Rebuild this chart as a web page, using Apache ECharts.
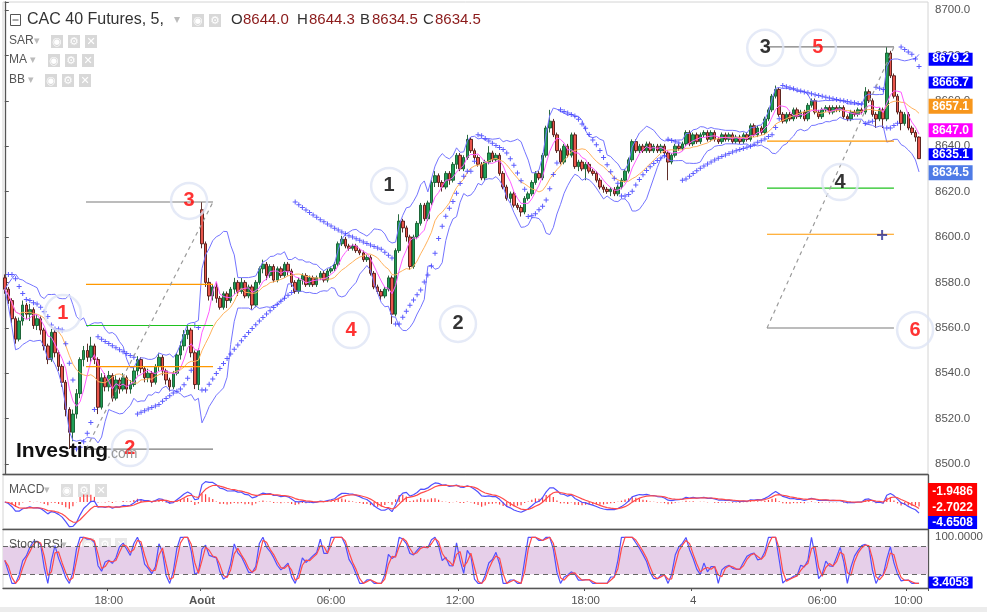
<!DOCTYPE html>
<html><head><meta charset="utf-8">
<script src="https://cdn.jsdelivr.net/npm/echarts@6/dist/echarts.min.js"></script>
<style>html,body{margin:0;padding:0;background:#fff}#c{width:987px;height:612px}</style>
</head><body><div id="c"></div>
<script>
// ---- candle data: [open, close, low, high] (10-minute steps) ----
const ohlc = [
[8582,8577,8575,8583.5],[8577,8572,8570.5,8578],[8572,8564,8562,8573],[8564,8555,8553,8565],[8555,8563,8554,8564.5],
[8563,8570,8561,8572],[8570,8566,8564,8571],[8566,8568,8563,8570.5],[8568,8561,8559.5,8569],[8561,8564,8559,8566],
[8564,8559,8557,8565],[8559,8552,8550,8560],[8552,8546,8544,8553],[8546,8558,8545,8559.5],[8558,8549,8547,8559],
[8549,8543,8541,8550],[8543,8536,8534,8544],[8536,8524,8521,8537],[8524,8514,8506.6,8525],[8514,8522,8510,8524],
[8522,8531,8520,8533],[8531,8546,8529,8547],[8546,8550,8543,8552],[8550,8547,8545,8553],[8547,8552,8545,8556],
[8552,8546,8544,8553],[8546,8525,8522,8547],[8525,8538,8524,8540],[8538,8534,8532,8540],[8534,8539,8532,8541],
[8539,8529,8527.5,8540],[8529,8537,8528,8539],[8537,8533,8531,8538],[8533,8538,8532,8540],[8538,8533,8531,8539],
[8533,8535,8531,8537],[8535,8541,8534,8543],[8541,8546,8539,8547.5],[8546,8542,8540,8547],[8542,8538,8536,8543],
[8538,8540,8536,8542],[8540,8536,8534,8541],[8536,8543,8535,8544],[8543,8547,8541,8549],[8547,8541,8539,8548],
[8541,8537,8535,8542],[8537,8534,8532,8538],[8534,8540,8533,8541],[8540,8548,8539,8549],[8548,8552,8546,8554],
[8552,8557,8550,8559],[8557,8559,8555,8561],[8559,8549,8547,8560],[8549,8535,8533,8550],[8535,8550,8532.6,8551],
[8612,8597,8595,8615.4],[8597,8580,8578,8598],[8580,8574,8572,8582],[8574,8578,8572,8579],[8578,8573,8571,8580],
[8573,8569,8568,8574],[8569,8575,8568,8576],[8575,8572,8568.7,8576],[8572,8577,8571,8578],[8577,8580,8575,8582],
[8580,8576,8574,8581],[8576,8580,8575,8582],[8580,8574,8573,8581],[8574,8578,8573,8579],[8578,8570,8568,8579],
[8570,8580,8569,8581],[8580,8586,8579,8587],[8586,8588,8584,8590],[8588,8583,8581,8589],[8583,8587,8582,8588],
[8587,8581,8580,8588],[8581,8586,8580,8587],[8586,8583,8582,8587],[8583,8588,8582,8589],[8588,8585,8583,8589],
[8585,8580,8578,8586],[8580,8576,8575,8581],[8576,8581,8575,8582],[8581,8583,8579,8584],[8583,8579,8578,8584],
[8579,8582,8578,8583],[8582,8579,8578,8583],[8579,8582,8578,8583],[8582,8584,8581,8585],[8584,8581,8580,8585],
[8581,8585,8580,8586],[8585,8586,8584,8587],[8586,8588,8585,8589],[8588,8597,8587,8598],[8597,8599,8596,8600.5],
[8599,8596,8595,8600],[8596,8595,8594,8597],[8595,8596,8594,8597],[8596,8594,8593,8597],[8594,8593,8592,8595],
[8593,8590,8589,8594],[8590,8591,8589,8592],[8591,8584,8583,8592],[8584,8578,8577,8585],[8578,8576,8575,8579],
[8576,8574,8572,8577],[8574,8577,8573,8578],[8577,8582,8576,8583],[8582,8566,8561.7,8583],[8566,8594,8565,8595],
[8594,8607,8593,8610],[8607,8604,8602,8608],[8604,8600,8598,8605],[8600,8587,8585.5,8601],[8587,8600,8586,8601],
[8600,8606,8599,8607],[8606,8614,8605,8615],[8614,8608,8607,8615],[8608,8615,8607,8616],[8615,8624,8614,8625],
[8624,8627,8622,8629],[8627,8624,8622,8628],[8624,8622,8620,8625],[8622,8628,8621,8629],[8628,8625,8623,8629],
[8625,8632,8624,8633],[8632,8636,8630,8637],[8636,8630,8629,8637],[8630,8635,8629,8636],[8635,8643,8634,8645],
[8643,8638,8637,8644],[8638,8635,8634,8639],[8635,8632,8631,8636],[8632,8626,8625,8633],[8626,8633,8625,8634],
[8633,8637,8632,8640],[8637,8634,8633,8638],[8634,8636,8633,8637],[8636,8628,8627,8637],[8628,8622,8621,8629],
[8622,8617,8616,8623],[8617,8619,8615,8620],[8619,8614,8613,8620],[8614,8613,8612,8615],[8613,8611,8609,8614],
[8611,8617,8610,8618],[8617,8619,8616,8620],[8619,8624,8618,8625],[8624,8628,8623,8629],[8628,8626,8625,8629],
[8626,8636,8625,8637],[8636,8648,8635,8649],[8648,8651,8646,8656],[8651,8645,8644,8652],[8645,8638,8637,8646],
[8638,8633,8632,8639],[8633,8640,8632,8641],[8640,8636,8635,8641],[8636,8645,8635,8646],[8645,8631,8630,8646],
[8631,8633,8629,8634],[8633,8630,8629,8634],[8630,8632,8625,8633],[8632,8629,8628,8633],[8629,8628,8627,8630],
[8628,8625,8624,8629],[8625,8622,8621,8626],[8622,8621,8619.5,8623],[8621,8620,8619,8622],[8620,8621,8618,8622],
[8621,8619,8618,8622],[8619,8622,8618,8623],[8622,8625,8621,8626],[8625,8629,8624,8630],[8629,8634,8628,8635],
[8634,8642,8633,8643],[8642,8638,8637,8643],[8638,8640,8637,8641],[8640,8638,8637,8641],[8638,8641,8637,8642],
[8641,8638,8637,8642],[8638,8640,8637,8641],[8640,8638,8637,8641],[8638,8640,8637,8641],[8640,8637,8636,8641],
[8637,8633,8625,8638],[8633,8636,8632,8637],[8636,8640,8635,8641],[8640,8639,8638,8641],[8639,8641,8638,8642],
[8641,8646,8640,8647],[8646,8641,8640,8647],[8641,8645,8640,8646],[8645,8642,8641,8646],[8642,8645,8641,8646],
[8645,8646,8644,8647],[8646,8643,8642,8647],[8643,8646,8642,8647],[8646,8643,8642,8647],[8643,8642,8641,8644],
[8642,8645,8641,8646],[8645,8643,8642,8646],[8643,8645,8642,8646],[8645,8642,8641,8646],[8642,8644,8641,8645],
[8644,8642,8641,8645],[8642,8645,8641,8646],[8645,8643,8642,8646],[8643,8649,8642,8650],[8649,8645,8644,8650],
[8645,8648,8644,8649],[8648,8646,8645,8649],[8646,8652,8645,8653],[8652,8656,8651,8657],[8656,8662,8655,8663],
[8662,8665,8661,8666.7],[8665,8654,8653,8666],[8654,8651,8650,8655],[8651,8654,8650,8655],[8654,8652,8651,8655],
[8652,8656,8651,8657],[8656,8653,8652,8657],[8653,8655,8652,8656],[8655,8652,8651,8656],[8652,8658,8651,8659],
[8658,8660,8657,8661],[8660,8655,8654,8661],[8655,8653,8652,8656],[8653,8656,8652,8657],[8656,8657,8655,8658],
[8657,8655,8654,8658],[8655,8657,8654,8658],[8657,8656,8655,8658],[8656,8657,8655,8658],[8657,8653,8652,8658],
[8653,8652,8651,8654],[8652,8655,8651,8656],[8655,8654,8653,8656],[8654,8656,8653,8657],[8656,8655,8654,8657],
[8655,8664,8654,8666],[8664,8660,8659,8665],[8660,8654,8653,8661],[8654,8652,8648,8655],[8652,8656,8651,8657],
[8656,8652,8648,8657],[8652,8681,8651,8683.7],[8681,8671,8670,8682],[8671,8662,8661,8672],[8662,8655,8654,8663],
[8655,8650,8647,8656],[8650,8654,8649,8655],[8654,8648,8647,8655],[8648,8646,8645,8649],[8646,8644,8642,8647],
[8644,8634.5,8634.5,8644.3]
];
const emptySlotsRight = 2;

// ---- x-axis tick labels ----
const tickIdx  = [29, 55, 91, 127, 162, 192, 228, 252];
const tickText = ['18:00', 'Août', '06:00', '12:00', '18:00', '4', '06:00', '10:00'];
const tickBold = [false, true, false, false, false, false, false, false];

// ---- header values ----
const headerKeys = ['O', 'H', 'B', 'C'];
const headerVals = ['8644.0', '8644.3', '8634.5', '8634.5'];

// ---- value tags on the right axis ----
const priceTags = [8679.2, 8666.7, 8657.1, 8647.0, 8635.1, 8634.5];
const macdTags  = [-1.9486, -2.7022, -4.6508];
const stochTags = [3.4058];

// ---- drawings (data coordinates: slot index, price) ----
const fibLeftX   = [22.65, 58.08];
const fibLeftLv  = [8615.4, 8579.1, 8561.0, 8542.9, 8506.6];
const fibRightX  = [212.6, 248.0];
const fibRightLv = [8683.7, 8642.2, 8621.5, 8601.2, 8559.9];
const diagLeft   = [[22.65, 8506.6], [58.08, 8615.4]];
const diagRight  = [[212.6, 8559.9], [248.0, 8683.7]];
const crossMark  = [[244.7, 8600.9]];

// ---- circled wave labels ----
const waveX     = [51.4, 16.2, 34.9, 107.2, 126.4, 96.6, 212.1, 226.8, 233.0, 253.9];
const wavePrice = [8615.9, 8566.5, 8507.0, 8622.5, 8561.7, 8559.0, 8683.3, 8683.3, 8624.2, 8559.0];
const waveText  = ['3', '1', '2', '1', '2', '4', '3', '5', '4', '6'];

// ---------------- styles (kept apart from data) ----------------
const waveColor = ['#ff0000','#ff0000','#ff0000','#000','#000','#ff0000','#000','#ff0000','#000','#ff0000'];
const priceTagColor = ['#0000ff','#0000ff','#f7961c','#ff00ff','#0000ff','#4f7be6'];
const priceTagH  = [13, 12, 15, 14, 12, 15];
const priceTagDy = [2, -3, -1, 0, -3, 14];
const macdTagColor = ['#ff0000','#ff0000','#0000ff'];
const macdTagH  = [17, 16, 13];
const macdTagDy = [-14.5, 0.4, 10.8];
const fibColors = ['#7a7a7a', '#ff9800', '#1fc21f', '#ff9800', '#7a7a7a'];
const FONT = '"Liberation Sans", Arial, sans-serif';

// ---------------- indicator periods (10-minute equivalents) ----------------
const BB_P = 10, BB_K = 2, MA_FAST = 5, MA_SLOW = 12;
const M_FAST = 6, M_SLOW = 13, M_SIG = 5;
const RSI_P = 7, ST_P = 7, K_SM = 2, D_SM = 2;
const SAR_STEP = 0.03, SAR_MAX = 0.3;

const N = ohlc.length;
const slots = N + emptySlotsRight;
const cats = [];
for (let i = 0; i < slots; i++) cats.push(String(i));
const closes = ohlc.map(r => r[1]);
const lows = ohlc.map(r => r[2]);
const highs = ohlc.map(r => r[3]);

function sma(a, p) {
  return a.map((v, i) => { let s = 0, n = 0; for (let j = Math.max(0, i - p + 1); j <= i; j++) { s += a[j]; n++; } return s / n; });
}
function bands(a, p, k) {
  const m = sma(a, p), up = [], lo = [];
  a.forEach((v, i) => {
    let s = 0, n = 0;
    for (let j = Math.max(0, i - p + 1); j <= i; j++) { s += (a[j] - m[i]) ** 2; n++; }
    const sd = Math.sqrt(s / n);
    up.push(m[i] + k * sd); lo.push(m[i] - k * sd);
  });
  return [up, lo];
}
function ema(a, p) {
  const k = 2 / (p + 1); let prev = null;
  return a.map(v => (prev = prev === null ? v : v * k + prev * (1 - k)));
}
function rsi(c, p) {
  const o = [50]; let ag = 0, al = 0;
  for (let i = 1; i < c.length; i++) {
    const d = c[i] - c[i - 1], g = Math.max(d, 0), l = Math.max(-d, 0);
    if (i === 1) { ag = g; al = l; } else { ag = (ag * (p - 1) + g) / p; al = (al * (p - 1) + l) / p; }
    o.push(al === 0 ? 100 : 100 - 100 / (1 + ag / al));
  }
  return o;
}
function stoch(a, p) {
  return a.map((v, i) => {
    let lo = Infinity, hi = -Infinity;
    for (let j = Math.max(0, i - p + 1); j <= i; j++) { lo = Math.min(lo, a[j]); hi = Math.max(hi, a[j]); }
    return hi - lo < 1e-9 ? 50 : (v - lo) / (hi - lo) * 100;
  });
}
function psar(H, L, step, maxAf) {
  const out = [null];
  let up = false, sar = H[0], ep = L[0], af = step;
  for (let i = 1; i < H.length; i++) {
    sar = sar + af * (ep - sar);
    if (up) {
      sar = Math.min(sar, L[i - 1], i > 1 ? L[i - 2] : L[i - 1]);
      if (L[i] < sar) { up = false; sar = ep; ep = L[i]; af = step; }
      else if (H[i] > ep) { ep = H[i]; af = Math.min(af + step, maxAf); }
    } else {
      sar = Math.max(sar, H[i - 1], i > 1 ? H[i - 2] : H[i - 1]);
      if (H[i] > sar) { up = true; sar = ep; ep = H[i]; af = step; }
      else if (L[i] < ep) { ep = L[i]; af = Math.min(af + step, maxAf); }
    }
    out.push(sar);
  }
  return out;
}

const [bbUp, bbLo] = bands(closes, BB_P, BB_K);
const maFast = sma(closes, MA_FAST), maSlow = sma(closes, MA_SLOW);
const sar = psar(highs, lows, SAR_STEP, SAR_MAX);
const emaF = ema(closes, M_FAST), emaS = ema(closes, M_SLOW);
const macd = emaF.map((v, i) => v - emaS[i]);
const signal = ema(macd, M_SIG);
const hist = macd.map((v, i) => v - signal[i]);
const stRaw = stoch(rsi(closes, RSI_P), ST_P);
const stK = sma(stRaw, K_SM), stD = sma(stK, D_SM);

const plusPath = 'path://M2,0h1v2h2v1h-2v2h-1v-2h-2v-1h2z';

function tagPoints(values, colors, heights, dys, width, dx, digits) {
  return values.map((v, k) => ({
    coord: [slots - 1, v], symbol: 'rect', symbolSize: [width, heights[k]], symbolOffset: [dx, dys[k]],
    itemStyle: { color: colors[k] },
    label: { show: true, position: 'inside', formatter: v.toFixed(digits), color: '#fff', fontSize: 12, fontWeight: 'bold', fontFamily: FONT }
  }));
}

const series = [];
series.push({
  type: 'candlestick', xAxisIndex: 0, yAxisIndex: 0, data: ohlc, barWidth: 3, z: 2,
  itemStyle: { color: '#1f9e55', color0: '#e8554b', borderColor: '#135a2c', borderColor0: '#4d1612', borderWidth: 0.9 },
  markPoint: { silent: true, animation: false, z: 10, data: tagPoints(priceTags, priceTagColor, priceTagH, priceTagDy, 44, 24.4, 1) }
});
series.push({ type: 'line', xAxisIndex: 0, yAxisIndex: 0, data: bbUp, symbol: 'none', silent: true, z: 3, lineStyle: { color: '#7474ff', width: 1 } });
series.push({ type: 'line', xAxisIndex: 0, yAxisIndex: 0, data: bbLo, symbol: 'none', silent: true, z: 3, lineStyle: { color: '#7474ff', width: 1 } });
series.push({ type: 'line', xAxisIndex: 0, yAxisIndex: 0, data: maSlow, symbol: 'none', silent: true, z: 3, lineStyle: { color: '#ffb25c', width: 1 } });
series.push({ type: 'line', xAxisIndex: 0, yAxisIndex: 0, data: maFast, symbol: 'none', silent: true, z: 3, lineStyle: { color: '#ff5cff', width: 1 } });
series.push({
  type: 'scatter', xAxisIndex: 0, yAxisIndex: 0, silent: true, z: 4, symbol: plusPath, symbolSize: 5,
  itemStyle: { color: '#3434ff' },
  data: sar.map((v, i) => v === null ? null : [i, v]).filter(d => d)
});
// drawings
function seg(pts, color, dashed) {
  return { type: 'line', xAxisIndex: 3, yAxisIndex: 0, data: pts, symbol: 'none', silent: true, z: 5,
    lineStyle: { color, width: 1.2, type: dashed ? [4, 4] : 'solid' } };
}
fibLeftLv.forEach((lv, k) => series.push(seg([[fibLeftX[0], lv], [fibLeftX[1], lv]], fibColors[k], false)));
fibRightLv.forEach((lv, k) => series.push(seg([[fibRightX[0], lv], [fibRightX[1], lv]], fibColors[k], false)));
series.push(seg(diagLeft, '#9a9a9a', true));
series.push(seg(diagRight, '#9a9a9a', true));
series.push({ type: 'scatter', xAxisIndex: 3, yAxisIndex: 0, data: crossMark, symbol: plusPath, symbolSize: 10,
  itemStyle: { color: '#2e3192' }, silent: true, z: 6 });
series.push({
  type: 'scatter', xAxisIndex: 3, yAxisIndex: 0, silent: true, z: 7, clip: false, symbol: 'circle', symbolSize: 36,
  itemStyle: { color: 'rgba(255,255,255,0.05)', borderColor: '#dfe5f5', borderWidth: 2.5 },
  data: waveX.map((x, k) => ({ value: [x, wavePrice[k]],
    label: { show: true, position: 'inside', formatter: waveText[k], color: waveColor[k], fontSize: 20, fontWeight: 'bold', fontFamily: FONT } }))
});
// MACD
series.push({ type: 'bar', xAxisIndex: 1, yAxisIndex: 1, data: hist, barWidth: 1.2, silent: true, itemStyle: { color: '#ff3d3d' } });
series.push({ type: 'line', xAxisIndex: 1, yAxisIndex: 1, data: macd, symbol: 'none', silent: true, lineStyle: { color: '#5050ff', width: 1.2 } });
series.push({ type: 'line', xAxisIndex: 1, yAxisIndex: 1, data: signal, symbol: 'none', silent: true, lineStyle: { color: '#ff4a4a', width: 1.2 },
  markPoint: { silent: true, animation: false, data: tagPoints(macdTags, macdTagColor, macdTagH, macdTagDy, 49, 26.4, 4) } });
// Stoch RSI
series.push({ type: 'line', xAxisIndex: 2, yAxisIndex: 2, data: stK, symbol: 'none', silent: true, z: 1, lineStyle: { opacity: 0 },
  markArea: { silent: true, itemStyle: { color: '#e6cfe9' }, data: [[{ yAxis: 20 }, { yAxis: 80 }]] },
  markLine: { silent: true, symbol: 'none', label: { show: false }, lineStyle: { color: '#666', type: [5, 4], width: 1 }, data: [{ yAxis: 20 }, { yAxis: 80 }] } });
series.push({ type: 'line', xAxisIndex: 2, yAxisIndex: 2, data: stK, symbol: 'none', silent: true, z: 3, lineStyle: { color: '#5050ff', width: 1.2 } });
series.push({ type: 'line', xAxisIndex: 2, yAxisIndex: 2, data: stD, symbol: 'none', silent: true, z: 3, lineStyle: { color: '#ff4a4a', width: 1.2 },
  markPoint: { silent: true, animation: false, data: tagPoints(stochTags, ['#0000ff'], [12], [0.7], 44, 24.4, 4) } });

const axisDark = { show: true, onZero: false, lineStyle: { color: '#555', width: 1.3 } };
function catAxis(g, labels) {
  return {
    type: 'category', gridIndex: g, data: cats, boundaryGap: true, axisLine: axisDark,
    axisTick: labels ? { show: true, length: 3, interval: (i) => tickIdx.includes(i), lineStyle: { color: '#555' } } : { show: false },
    axisLabel: labels ? {
      show: true, interval: (i) => tickIdx.includes(i), color: '#555', fontSize: 11.5, fontFamily: FONT, margin: 7,
      formatter: (v, i) => { const k = tickIdx.indexOf(i); if (k < 0) return ''; return tickBold[k] ? '{b|' + tickText[k] + '}' : tickText[k]; },
      rich: { b: { fontWeight: 'bold', fontSize: 11.5, color: '#555', fontFamily: FONT } }
    } : { show: false },
    splitLine: { show: false }
  };
}
const gridBase = { left: 3, right: 59, show: true, borderColor: '#d4d4d4', borderWidth: 1, containLabel: false, outerBoundsMode: 'none' };

function txt(x, y, text, size, fill, weight) {
  return { type: 'text', x, y, silent: true, z: 100,
    style: { text, fontSize: size, fontFamily: FONT, fontWeight: weight || 'normal', fill, verticalAlign: 'middle', textVerticalAlign: 'middle' } };
}
function icon(x, y, glyph, op) {
  return { type: 'group', x, y, silent: true, z: 100, children: [
    { type: 'rect', shape: { x: 0, y: 0, width: 12, height: 13 }, style: { fill: '#d8d8d8', opacity: op } },
    { type: 'text', x: 6, y: 7, style: { text: glyph, fontSize: 11, fontFamily: '"DejaVu Sans"', fill: '#fff', align: 'center', verticalAlign: 'middle', textAlign: 'center', textVerticalAlign: 'middle' } }
  ] };
}
const EYE = '\u25C9', GEAR = '\u2699', CLOSE = '\u2715';
const graphic = [
  { type: 'rect', silent: true, z: 100, shape: { x: 10.5, y: 14.5, width: 10, height: 11 }, style: { fill: 'none', stroke: '#555', lineWidth: 1 } },
  { type: 'line', silent: true, z: 100, shape: { x1: 12.5, y1: 20, x2: 18.5, y2: 20 }, style: { stroke: '#555', lineWidth: 1 } },
  txt(27, 20, 'CAC 40 Futures, 5,', 16, '#333'),
  txt(174, 20, '\u25BE', 12, '#bbb'),
  icon(192, 14, EYE, 1), icon(209, 14, GEAR, 1),
  txt(9, 41, 'SAR', 12, '#555'), txt(34, 41, '\u25BE', 11, '#bbb'),
  icon(51, 35, EYE, 1), icon(68, 35, GEAR, 1), icon(85, 35, CLOSE, 1),
  txt(9, 60, 'MA', 12, '#555'), txt(30, 60, '\u25BE', 11, '#bbb'),
  icon(48, 54, EYE, 1), icon(65, 54, GEAR, 1), icon(82, 54, CLOSE, 1),
  txt(9, 80, 'BB', 12, '#555'), txt(28, 80, '\u25BE', 11, '#bbb'),
  icon(45, 74, EYE, 1), icon(62, 74, GEAR, 1), icon(79, 74, CLOSE, 1),
  txt(9, 490, 'MACD', 12, '#555'), txt(44, 490, '\u25BE', 11, '#bbb'),
  icon(61, 484, EYE, 0.85), icon(78, 484, GEAR, 0.85), icon(95, 484, CLOSE, 0.85),
  txt(9, 545, 'Stoch RSI', 12, '#555'), txt(61, 545, '\u25BE', 11, '#bbb'),
  icon(82, 538, EYE, 0.6), icon(99, 538, GEAR, 0.6), icon(115, 538, CLOSE, 0.6),
  txt(16, 451, 'Investing', 21, '#111', 'bold'),
  txt(107, 454, '.com', 14, '#999'),
  { type: 'rect', silent: true, z: 0, shape: { x: 0, y: 607, width: 987, height: 5 }, style: { fill: '#ececec' } }
];
const hx = [231, 297, 360, 423];
headerKeys.forEach((k, i) => {
  graphic.push(txt(hx[i], 20, k, 15, '#333'));
  graphic.push(txt(hx[i] + 12, 20, headerVals[i], 15, '#8b1a1a'));
});

const option = {
  animation: false,
  backgroundColor: '#ffffff',
  grid: [
    Object.assign({ top: 2, height: 472 }, gridBase),
    Object.assign({ top: 475, height: 54 }, gridBase),
    Object.assign({ top: 529, height: 59 }, gridBase)
  ],
  xAxis: [
    catAxis(0, false), catAxis(1, false), catAxis(2, true),
    { type: 'value', gridIndex: 0, min: -0.5, max: slots - 0.5, show: false }
  ],
  yAxis: [
    { type: 'value', gridIndex: 0, position: 'right', min: 8495.6, max: 8703.5, splitNumber: 10,
      axisLine: { show: true, lineStyle: { color: '#555', width: 1.3 } },
      axisTick: { show: true, length: 4, lineStyle: { color: '#555' } },
      axisLabel: { color: '#555', fontSize: 11.5, fontFamily: FONT, margin: 7,
        formatter: v => { const r = v / 20; return Math.abs(r - Math.round(r)) < 1e-6 ? v.toFixed(1) : ''; } },
      splitLine: { show: false } },
    { type: 'value', gridIndex: 1, position: 'right', min: -13, max: 13,
      axisLine: { show: true, lineStyle: { color: '#555', width: 1.3 } }, axisTick: { show: false }, axisLabel: { show: false }, splitLine: { show: false } },
    { type: 'value', gridIndex: 2, position: 'right', min: -10, max: 118, interval: 10,
      axisLine: { show: true, lineStyle: { color: '#555', width: 1.3 } }, axisTick: { show: false },
      axisLabel: { color: '#555', fontSize: 11.5, fontFamily: FONT, margin: 7, formatter: v => (v === 100 ? '100.0000' : '') },
      splitLine: { show: false } }
  ],
  series,
  graphic
};
const chart = echarts.init(document.getElementById('c'));
chart.setOption(option);
</script>
</body></html>
